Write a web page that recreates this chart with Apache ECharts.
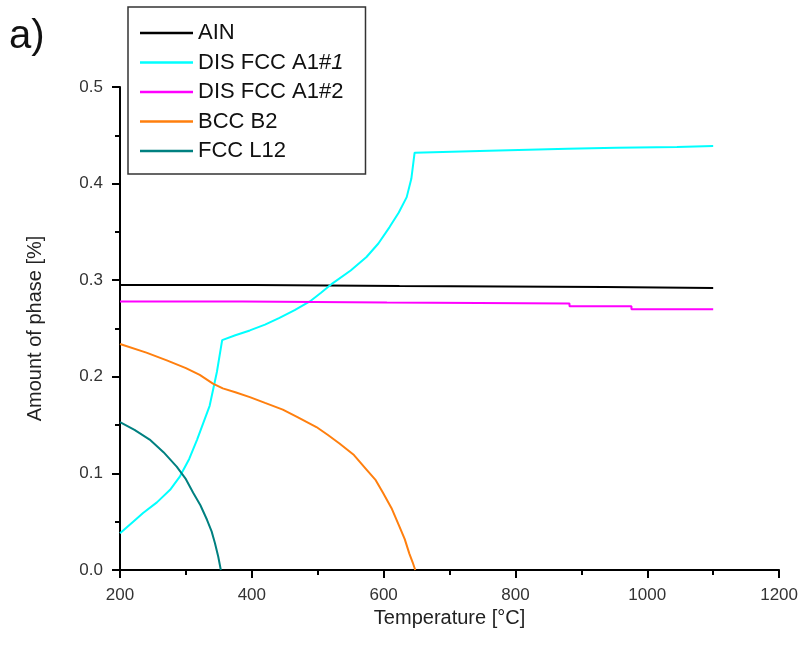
<!DOCTYPE html>
<html>
<head>
<meta charset="utf-8">
<script src="https://cdn.jsdelivr.net/npm/echarts@6/dist/echarts.min.js"></script>
<style>
  html, body { margin: 0; padding: 0; background: #fff; }
  #chart { width: 801px; height: 651px; }
</style>
</head>
<body>
<div id="chart"></div>
<script>
// phase names
const seriesNames = ['AIN', 'DIS FCC A1#1', 'DIS FCC A1#2', 'BCC B2', 'FCC L12'];

// AIN
const ainT = [200, 405, 405, 624, 624, 935, 935, 1100];
const ainV = [0.295, 0.295, 0.294, 0.294, 0.293, 0.293, 0.292, 0.292];

// DIS FCC A1#1
const fcc1T = [200, 220, 235, 256, 276, 291, 305, 317, 336, 347, 355, 375, 397, 420, 442, 465, 488, 505, 523, 550, 574, 592, 609, 623, 635, 642, 647, 760, 879, 879, 953, 953, 1045, 1045, 1100];
const fcc1V = [0.038, 0.05, 0.059, 0.07, 0.083, 0.097, 0.115, 0.135, 0.17, 0.205, 0.238, 0.243, 0.248, 0.254, 0.261, 0.269, 0.278, 0.287, 0.297, 0.31, 0.324, 0.338, 0.355, 0.37, 0.386, 0.405, 0.432, 0.434, 0.436, 0.437, 0.437, 0.438, 0.438, 0.439, 0.439];

// DIS FCC A1#2
const fcc2T = [200, 386, 386, 605, 605, 882, 882, 976, 976, 1100];
const fcc2V = [0.278, 0.278, 0.277, 0.277, 0.276, 0.276, 0.273, 0.273, 0.270, 0.270];

// BCC B2
const bccT = [200, 240, 271, 300, 321, 341, 356, 375, 397, 420, 447, 470, 498, 515, 533, 555, 574, 588, 599, 612, 624, 632, 639, 644, 648];
const bccV = [0.234, 0.225, 0.217, 0.209, 0.202, 0.193, 0.188, 0.184, 0.179, 0.173, 0.166, 0.158, 0.148, 0.14, 0.131, 0.119, 0.104, 0.093, 0.08, 0.064, 0.045, 0.032, 0.017, 0.008, 0];

// FCC L12
const l12T = [200, 222, 245, 266, 286, 300, 311, 322, 332, 339, 344, 349, 353];
const l12V = [0.153, 0.145, 0.135, 0.122, 0.107, 0.094, 0.08, 0.067, 0.052, 0.04, 0.028, 0.014, 0];

const colors = ['#000000', '#00ffff', '#ff00ff', '#ff7f0e', '#008080'];

const zip = (xs, ys) => xs.map((x, i) => [x, ys[i]]);
const dataSets = [zip(ainT, ainV), zip(fcc1T, fcc1V), zip(fcc2T, fcc2V), zip(bccT, bccV), zip(l12T, l12V)];

const myChart = echarts.init(document.getElementById('chart'));

const font = 'Liberation Sans, Arial, sans-serif';

const option = {
  animation: false,
  title: {
    text: 'a)',
    left: 4,
    top: 12,
    textStyle: { fontSize: 40, fontWeight: 'normal', color: '#111', fontFamily: font }
  },
  legend: {
    data: seriesNames,
    orient: 'vertical',
    left: 128,
    top: 7,
    padding: [15, 22, 12, 12],
    icon: 'rect',
    itemWidth: 53,
    itemHeight: 2.5,
    itemGap: 7.5,
    borderColor: '#333',
    borderWidth: 1.5,
    textStyle: {
      fontSize: 22,
      lineHeight: 22,
      color: '#111',
      fontFamily: font,
      rich: {
        it: { fontSize: 22, lineHeight: 22, fontStyle: 'italic', color: '#111', fontFamily: font }
      }
    },
    formatter: (name) => name === 'DIS FCC A1#1' ? 'DIS FCC A1#{it|1}' : name
  },
  grid: {
    left: 120,
    right: 21,
    top: 87,
    bottom: 81
  },
  xAxis: {
    type: 'value',
    min: 200,
    max: 1200,
    interval: 200,
    name: 'Temperature [°C]',
    nameLocation: 'middle',
    nameGap: 27,
    nameTextStyle: { fontSize: 20, color: '#222', fontFamily: font },
    axisLine: { lineStyle: { color: '#000', width: 2 } },
    axisTick: { length: 8, lineStyle: { color: '#000', width: 2 } },
    minorTick: { show: true, splitNumber: 2, length: 5, lineStyle: { color: '#000', width: 2 } },
    axisLabel: { fontSize: 17, color: '#333', fontFamily: font, margin: 17, formatter: (v) => String(v) },
    splitLine: { show: false }
  },
  yAxis: {
    type: 'value',
    min: 0,
    max: 0.5,
    interval: 0.1,
    name: 'Amount of phase [%]',
    nameLocation: 'middle',
    nameGap: 75,
    nameTextStyle: { fontSize: 20, color: '#222', fontFamily: font },
    axisLine: { show: true, lineStyle: { color: '#000', width: 2 } },
    axisTick: { show: true, length: 8, lineStyle: { color: '#000', width: 2 } },
    minorTick: { show: true, splitNumber: 2, length: 5, lineStyle: { color: '#000', width: 2 } },
    axisLabel: { fontSize: 17, color: '#333', fontFamily: font, margin: 17, formatter: (v) => v.toFixed(1) },
    splitLine: { show: false }
  },
  series: seriesNames.map((name, i) => ({
    name: name,
    type: 'line',
    data: dataSets[i],
    symbol: 'none',
    color: colors[i],
    lineStyle: { color: colors[i], width: 2 }
  }))
};

myChart.setOption(option);
</script>
</body>
</html>
